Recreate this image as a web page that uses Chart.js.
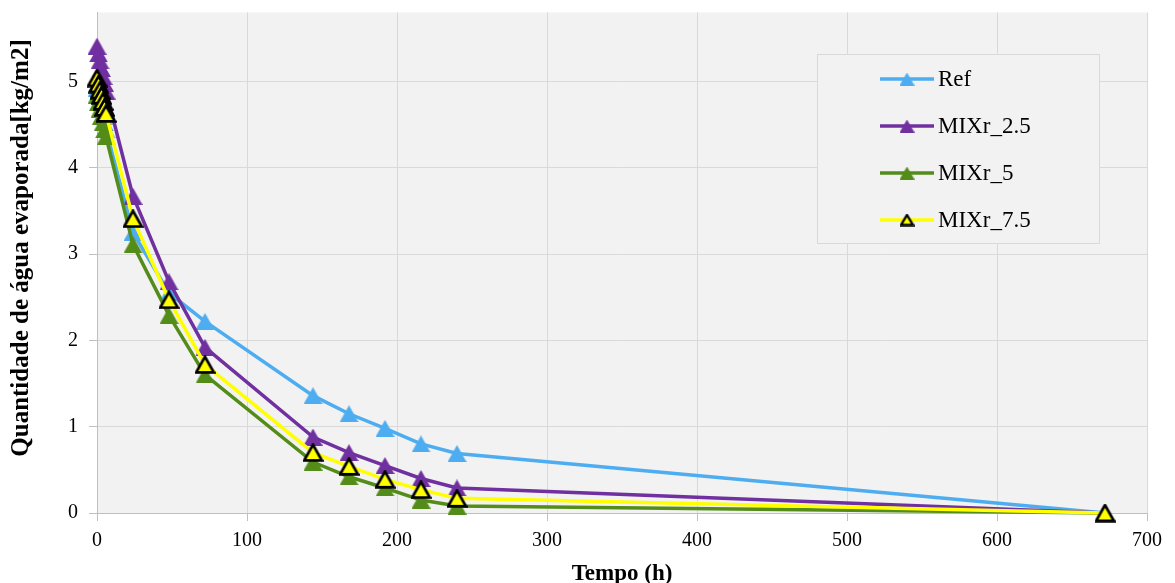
<!DOCTYPE html>
<html>
<head>
<meta charset="utf-8">
<script src="https://cdn.jsdelivr.net/npm/chart.js@4/dist/chart.umd.min.js"></script>
<style>
  html, body { margin: 0; padding: 0; background: #ffffff; }
  #wrap { width: 1175px; height: 583px; position: relative; }
</style>
</head>
<body>
<div id="wrap"><canvas id="c" width="1175" height="583"></canvas></div>
<script>
// ---- data ----
const times = [0, 1, 2, 3, 4, 5, 6, 24, 48, 72, 144, 168, 192, 216, 240, 672];
const seriesNames = ['Ref', 'MIXr_2.5', 'MIXr_5', 'MIXr_7.5'];
const refValues   = [4.92, 4.84, 4.76, 4.68, 4.60, 4.52, 4.44, 3.25, 2.55, 2.22, 1.36, 1.15, 0.98, 0.80, 0.69, 0];
const mix25Values = [5.41, 5.32, 5.24, 5.15, 5.06, 4.98, 4.89, 3.67, 2.68, 1.92, 0.88, 0.70, 0.55, 0.40, 0.29, 0];
const mix5Values  = [4.84, 4.76, 4.68, 4.60, 4.52, 4.44, 4.36, 3.11, 2.29, 1.60, 0.59, 0.42, 0.29, 0.15, 0.08, 0];
const mix75Values = [5.04, 4.97, 4.90, 4.84, 4.77, 4.70, 4.63, 3.41, 2.47, 1.72, 0.70, 0.54, 0.39, 0.27, 0.17, 0];
const xTickValues = [0, 100, 200, 300, 400, 500, 600, 700];
const yTickValues = [0, 1, 2, 3, 4, 5];
const xTitle = 'Tempo (h)';
const yTitle = 'Quantidade de água evaporada[kg/m2]';

// ---- styles ----
const FONT = "'Liberation Serif', 'Times New Roman', serif";
const colors = ['#4dadf0', '#7030a0', '#548c1a', '#ffff00'];

function makeTriangle(w, h, fill, stroke, lw) {
  const c = document.createElement('canvas');
  c.width = w; c.height = h;
  const g = c.getContext('2d');
  const inset = stroke ? lw / 2 + 0.3 : 0;
  g.beginPath();
  g.moveTo(w / 2, inset);
  g.lineTo(w - inset, h - inset);
  g.lineTo(inset, h - inset);
  g.closePath();
  g.fillStyle = fill;
  g.fill();
  if (stroke) { g.lineWidth = lw; g.strokeStyle = stroke; g.lineJoin = 'miter'; g.stroke(); }
  return c;
}
const markers = [
  makeTriangle(19, 17, colors[0]),
  makeTriangle(19, 17, colors[1]),
  makeTriangle(19, 17, colors[2]),
  makeTriangle(21, 19, colors[3], '#000000', 2.7)
];
const legendMarkers = [
  makeTriangle(15, 13, colors[0]),
  makeTriangle(15, 13, colors[1]),
  makeTriangle(15, 13, colors[2]),
  makeTriangle(15, 13, colors[3], '#000000', 2.4)
];

const allValues = [refValues, mix25Values, mix5Values, mix75Values];
const datasets = allValues.map((vals, i) => ({
  label: seriesNames[i],
  data: times.map((t, k) => ({ x: t, y: vals[k] })),
  borderColor: colors[i],
  backgroundColor: colors[i],
  borderWidth: 3.5,
  pointStyle: markers[i],
  pointRadius: 9,
  pointHoverRadius: 9,
  tension: 0,
  clip: false,
  order: 4 - i
}));

const plotBg = {
  id: 'plotBg',
  beforeDraw(chart) {
    const { ctx, chartArea: a } = chart;
    ctx.save();
    ctx.fillStyle = '#f2f2f2';
    ctx.fillRect(a.left, a.top, a.right - a.left, a.bottom - a.top);
    ctx.restore();
  }
};

const yAxisTitle = {
  id: 'yAxisTitle',
  afterDraw(chart) {
    const ctx = chart.ctx;
    ctx.save();
    ctx.translate(22, 248);
    ctx.rotate(-Math.PI / 2);
    ctx.fillStyle = '#000000';
    ctx.font = "bold 25px " + FONT;
    ctx.textAlign = 'center';
    ctx.textBaseline = 'middle';
    ctx.fillText(yTitle, 0, 0);
    ctx.restore();
  }
};

const boxLegend = {
  id: 'boxLegend',
  afterDraw(chart) {
    const ctx = chart.ctx;
    ctx.save();
    const bx = 817.5, by = 54.5, bw = 282, bh = 189;
    ctx.fillStyle = '#f2f2f2';
    ctx.fillRect(bx, by, bw, bh);
    ctx.strokeStyle = '#d9d9d9';
    ctx.lineWidth = 1;
    ctx.strokeRect(bx, by, bw, bh);
    const rows = [79, 126, 173, 220];
    chart.data.datasets.forEach((ds, i) => {
      const y = rows[i];
      ctx.strokeStyle = ds.borderColor;
      ctx.lineWidth = 3.5;
      ctx.beginPath();
      ctx.moveTo(880, y);
      ctx.lineTo(934, y);
      ctx.stroke();
      const m = legendMarkers[i];
      ctx.drawImage(m, 907 - m.width / 2, y - m.height / 2);
      ctx.fillStyle = '#000000';
      ctx.font = "23px " + FONT;
      ctx.textAlign = 'left';
      ctx.textBaseline = 'middle';
      ctx.fillText(ds.label, 938, y + 1);
    });
    ctx.restore();
  }
};

new Chart(document.getElementById('c'), {
  type: 'line',
  data: { datasets },
  options: {
    responsive: false,
    animation: false,
    events: [],
    layout: { padding: { top: 9, right: 28, left: 0, bottom: 0 } },
    plugins: {
      legend: { display: false },
      tooltip: { enabled: false }
    },
    scales: {
      x: {
        type: 'linear',
        min: 0,
        max: 700,
        afterFit(scale) { scale.height = 70; },
        afterBuildTicks(scale) { scale.ticks = xTickValues.map(v => ({ value: v })); },
        ticks: {
          color: '#000000',
          font: { family: FONT, size: 20 },
          padding: 8,
          maxRotation: 0
        },
        grid: { color: '#d9d9d9', lineWidth: 1, drawTicks: true, tickLength: 8, tickColor: '#bfbfbf' },
        border: { display: true, color: '#bfbfbf', width: 1 },
        title: {
          display: true,
          text: xTitle,
          color: '#000000',
          font: { family: FONT, size: 23, weight: 'bold', lineHeight: 1 },
          padding: { top: 0, bottom: -3 }
        }
      },
      y: {
        type: 'linear',
        min: 0,
        max: 5.8,
        afterFit(scale) { scale.width = 97; scale.paddingTop = 0; scale.paddingBottom = 0; },
        afterBuildTicks(scale) { scale.ticks = yTickValues.map(v => ({ value: v })); },
        ticks: {
          color: '#000000',
          font: { family: FONT, size: 20 },
          padding: 11
        },
        grid: { color: '#d9d9d9', lineWidth: 1, drawTicks: true, tickLength: 8, tickColor: '#bfbfbf' },
        border: { display: true, color: '#bfbfbf', width: 1 },
        title: { display: false }
      }
    }
  },
  plugins: [plotBg, yAxisTitle, boxLegend]
});
</script>
</body>
</html>
